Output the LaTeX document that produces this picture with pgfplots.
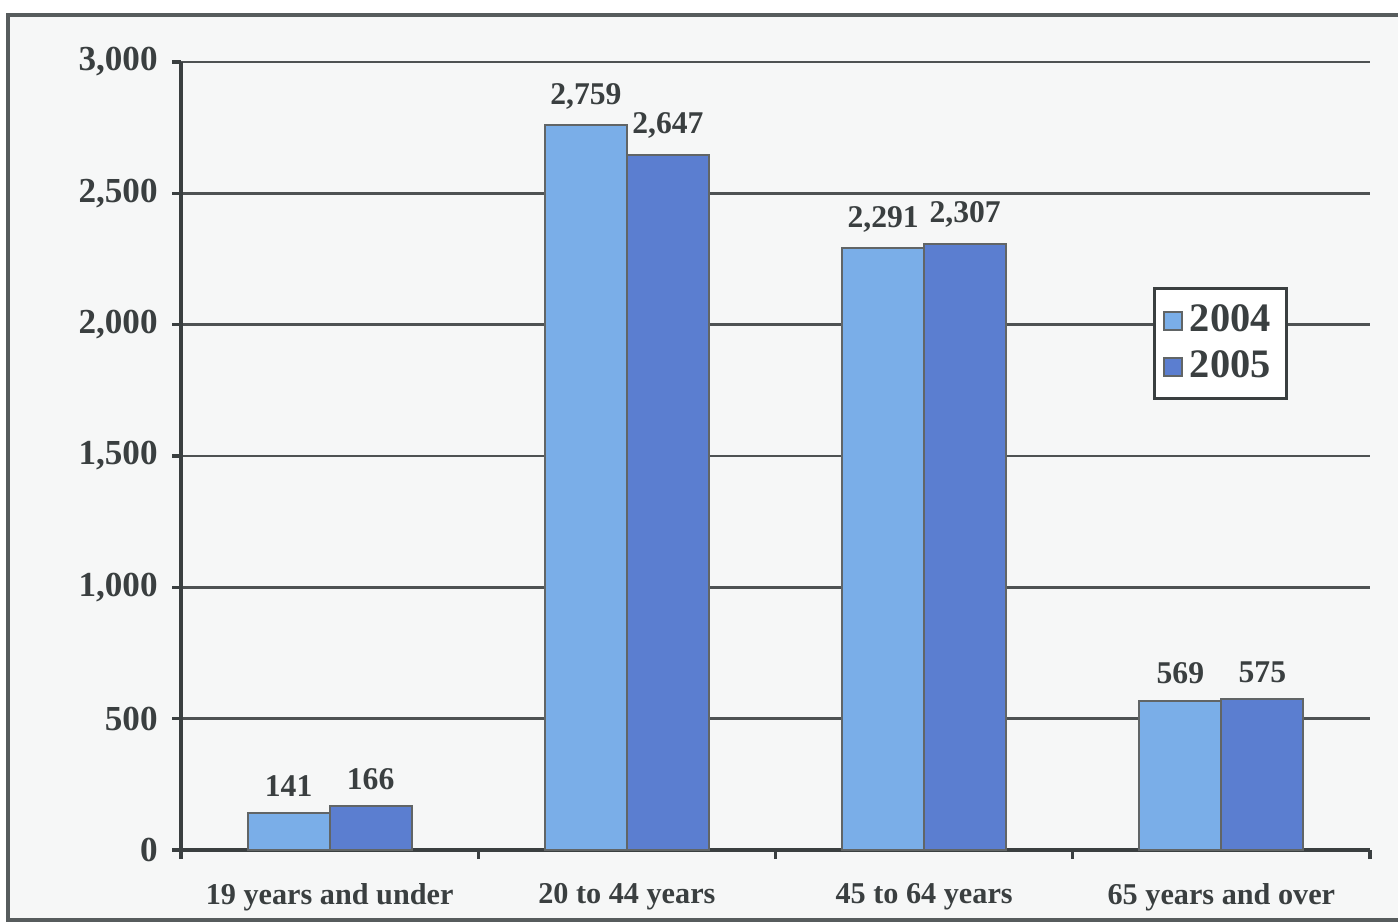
\documentclass[border=0pt]{standalone}
\usepackage{fontspec}
\setmainfont{Liberation Serif}
\usepackage{pgfplots}
\pgfplotsset{compat=1.18}
\definecolor{cA}{HTML}{7AAEE8}
\definecolor{cB}{HTML}{5B7ED0}
\definecolor{tx}{HTML}{3A3F40}
\definecolor{bg}{HTML}{F6F7F7}
\begin{document}
\begin{tikzpicture}[x=1cm,y=1cm]
\path[use as bounding box] (0,0) rectangle (13.98,9.23);
\fill[bg] (0.08,0.03) rectangle (13.98,9.08);
\draw[tx!85, line width=1pt] (13.98,0.03) -- (0.08,0.03) -- (0.08,9.08) -- (13.98,9.08);
\begin{axis}[
  at={(1.81cm,0.73cm)}, anchor=south west,
  scale only axis, width=11.89cm, height=7.88cm,
  xmin=-0.5, xmax=3.5, ymin=0, ymax=3000,
  ybar=0pt, bar width=0.82cm,
  axis x line*=bottom, axis y line*=left,
  axis line style={tx, line width=0.9pt},
  ymajorgrids, grid style={tx!90, line width=0.8pt},
  ytick={0,500,1000,1500,2000,2500,3000},
  xtick={0,1,2,3},
  xticklabels={19 years and under,20 to 44 years,45 to 64 years,65 years and over},
  minor xtick={-0.5,0.5,1.5,2.5,3.5},
  major x tick style={draw=none},
  minor tick length=0.09cm,
  major tick length=0.09cm,
  tick align=outside,
  tick style={tx, line width=0.9pt},
  /pgf/number format/assume math mode=true,
  /pgf/number format/1000 sep={,},
  yticklabel style={font=\fontsize{10}{12}\selectfont\bfseries, text=tx, xshift=-0.02cm},
  xticklabel style={font=\fontsize{8.6}{10}\selectfont\bfseries, text=tx, yshift=-0.12cm},
  nodes near coords,
  nodes near coords style={font=\fontsize{9}{11}\selectfont\bfseries, text=tx, yshift=1pt},
  legend style={at={(0.931,0.714)}, anchor=north east, draw=tx, line width=0.8pt, fill=white,
    font=\fontsize{11.5}{13}\selectfont\bfseries, text=tx, row sep=0pt, inner sep=2.5pt},
  legend image code/.code={\draw[#1, draw=tx!80, line width=0.5pt] (0cm,-0.09cm) rectangle (0.18cm,0.09cm);},
  legend cell align=left,
]
\addplot[fill=cA, draw=tx!80, line width=0.6pt] coordinates {(0,141) (1,2759) (2,2291) (3,569)};
\addplot[fill=cB, draw=tx!80, line width=0.6pt] coordinates {(0,166) (1,2647) (2,2307) (3,575)};
\legend{2004,2005}
\end{axis}
\end{tikzpicture}
\end{document}
